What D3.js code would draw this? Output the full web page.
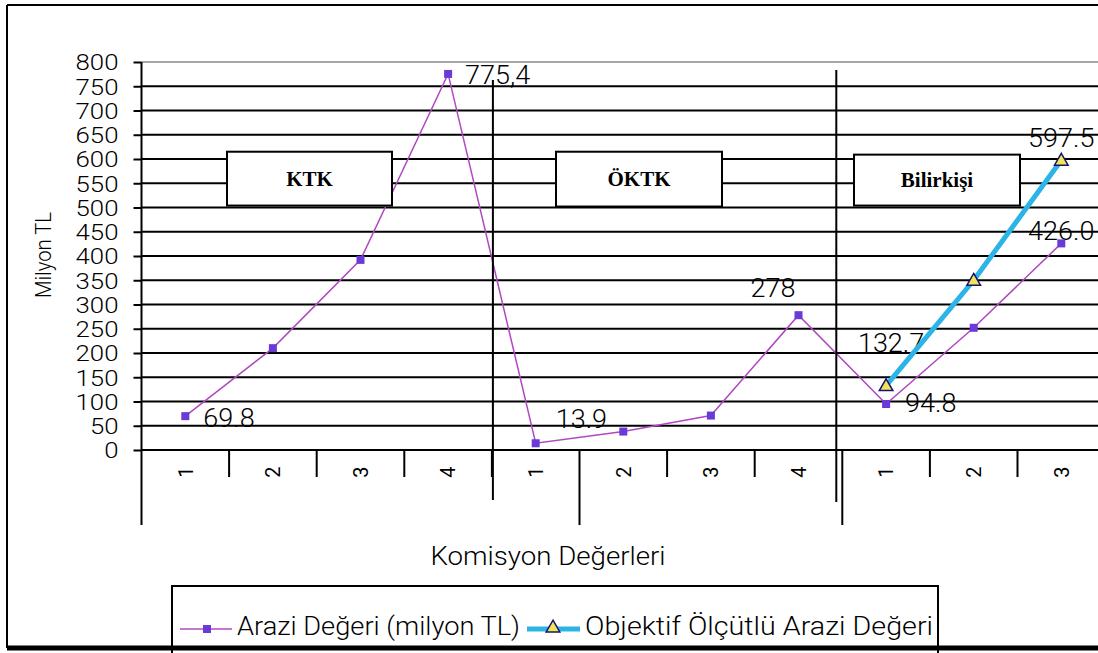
<!DOCTYPE html>
<html>
<head>
<meta charset="utf-8">
<script src="https://cdn.jsdelivr.net/npm/d3@7"></script>
<style>
  html, body { margin: 0; padding: 0; background: #fff; }
  svg { display: block; }
  text { font-family: Roboto, "Liberation Sans", Arial, sans-serif; font-weight: 300; fill: #000; }
  text.serif { font-family: "Liberation Serif", "DejaVu Serif", serif; font-weight: 700; }
  text.cat { font-weight: 400; }
</style>
</head>
<body>
<svg id="chart" width="1098" height="653"></svg>
<script>
// ---------------- data ----------------
const categories = ["1", "2", "3", "4", "1", "2", "3", "4", "1", "2", "3"];
const groupNames = ["KTK", "ÖKTK", "Bilirkişi"];
const araziValues = [69.8, 210, 392, 775.4, 13.9, 38, 71, 278, 94.8, 252, 426.0];
const objektifValues = [null, null, null, null, null, null, null, null, 132.7, 350, 597.5];
const araziLabels = ["69.8", null, null, "775,4", "13.9", null, null, "278", "94.8", null, "426.0"];
const objektifLabels = [null, null, null, null, null, null, null, null, "132.7", null, "597.5"];
const yTicks = [0, 50, 100, 150, 200, 250, 300, 350, 400, 450, 500, 550, 600, 650, 700, 750, 800];
const seriesNames = ["Arazi Değeri (milyon TL)", "Objektif Ölçütlü Arazi Değeri"];
const xTitle = "Komisyon Değerleri";
const yTitle = "Milyon TL";

// ---------------- layout ----------------
const W = 1098, H = 653;
const plotLeft = 141.5, bandW = 87.6, plotTop = 62, plotBottom = 450, plotRightEdge = W;
const svg = d3.select("#chart");

const x = d3.scaleBand().domain(d3.range(categories.length))
  .range([plotLeft, plotLeft + bandW * categories.length]).paddingInner(0).paddingOuter(0);
const cx = i => x(i) + x.bandwidth() / 2;
const y = d3.scaleLinear().domain([0, 800]).range([plotBottom, plotTop]);

const araziColor = "#b048c0";
const markerColor = "#6a3ad8";
const objColor = "#2cb4e6";

// stretch helper: widen text horizontally by a factor
function stretch(sel, f) {
  sel.each(function () {
    const w = this.getComputedTextLength();
    d3.select(this).attr("textLength", w * f).attr("lengthAdjust", "spacingAndGlyphs");
  });
}

// outer frame
svg.append("line").attr("x1", 7).attr("x2", 7).attr("y1", 5).attr("y2", 648).attr("stroke", "#000").attr("stroke-width", 2);
svg.append("line").attr("x1", 7).attr("x2", W).attr("y1", 5).attr("y2", 5).attr("stroke", "#000").attr("stroke-width", 2);

// plot top border
svg.append("line").attr("x1", plotLeft).attr("x2", plotRightEdge).attr("y1", y(800)).attr("y2", y(800))
  .attr("stroke", "#8a8a8a").attr("stroke-width", 1.5);

// gridlines
svg.append("g").selectAll("line").data(yTicks.filter(v => v > 0 && v < 800)).join("line")
  .attr("x1", plotLeft).attr("x2", plotRightEdge)
  .attr("y1", d => y(d)).attr("y2", d => y(d))
  .attr("stroke", "#000").attr("stroke-width", 2);

// y axis
const yAxis = d3.axisLeft(y).tickValues(yTicks).tickSize(8).tickPadding(15).tickFormat(d3.format("d"));
const yg = svg.append("g").attr("transform", `translate(${plotLeft},0)`).call(yAxis);
yg.select(".domain").remove();
yg.selectAll(".tick line").attr("stroke", "#000").attr("stroke-width", 2);
yg.selectAll(".tick text").attr("font-size", 21.5).attr("font-family", null)
  .attr("fill", "#000").attr("dy", "0.36em");
stretch(yg.selectAll(".tick text"), 1.2);
svg.append("line").attr("x1", plotLeft).attr("x2", plotLeft).attr("y1", y(800)).attr("y2", 525)
  .attr("stroke", "#000").attr("stroke-width", 2);

// x axis line
svg.append("line").attr("x1", plotLeft).attr("x2", plotRightEdge).attr("y1", y(0)).attr("y2", y(0))
  .attr("stroke", "#000").attr("stroke-width", 2);

// category tick lines below axis
const longIdx = [5, 8];
svg.append("g").selectAll("line").data(d3.range(1, categories.length)).join("line")
  .attr("x1", d => x(d)).attr("x2", d => x(d))
  .attr("y1", y(0)).attr("y2", d => longIdx.includes(d) ? 525 : 477)
  .attr("stroke", "#000").attr("stroke-width", 2);

// category labels (rotated)
svg.append("g").selectAll("text").data(categories).join("text")
  .attr("class", "cat")
  .attr("transform", (d, i) => `translate(${cx(i)},472) rotate(-90)`)
  .attr("text-anchor", "middle").attr("dy", "0.36em")
  .attr("font-size", 20).text(d => d);

// data labels (drawn beneath the series lines)
const araziPlace = { 0: [18, 2, "start"], 3: [17, 1, "start"], 4: [20, -24, "start"], 7: [-3, -27, "end"], 8: [19, -1, "start"], 10: [0, -12, "middle"] };
const objPlace = { 8: [5, -43, "middle"], 10: [0, -22, "middle"] };
function drawLabels(values, labels, place) {
  const data = values.map((v, i) => ({ i, v, t: labels[i] })).filter(d => d.t != null);
  const t = svg.append("g").selectAll("text").data(data).join("text")
    .attr("x", d => cx(d.i) + place[d.i][0]).attr("y", d => y(d.v) + place[d.i][1])
    .attr("text-anchor", d => place[d.i][2]).attr("dy", "0.36em")
    .attr("font-size", 25).text(d => d.t);
  stretch(t, 1.08);
}
drawLabels(araziValues, araziLabels, araziPlace);
drawLabels(objektifValues, objektifLabels, objPlace);

// Arazi series
const araziPts = araziValues.map((v, i) => ({ i, v }));
svg.append("path").datum(araziPts)
  .attr("d", d3.line().x(d => cx(d.i)).y(d => y(d.v)))
  .attr("fill", "none").attr("stroke", araziColor).attr("stroke-width", 1.5);
svg.append("g").selectAll("rect").data(araziPts).join("rect")
  .attr("x", d => cx(d.i) - 4).attr("y", d => y(d.v) - 4).attr("width", 8).attr("height", 8)
  .attr("fill", markerColor);

// Objektif series
const objPts = objektifValues.map((v, i) => ({ i, v })).filter(d => d.v != null);
svg.append("path").datum(objPts)
  .attr("d", d3.line().x(d => cx(d.i)).y(d => y(d.v)))
  .attr("fill", "none").attr("stroke", objColor).attr("stroke-width", 5);
const tri = d3.symbol().type(d3.symbolTriangle).size(80);
svg.append("g").selectAll("path").data(objPts).join("path")
  .attr("transform", d => `translate(${cx(d.i)},${y(d.v) + 1})`)
  .attr("d", tri).attr("fill", "#f2e45a").attr("stroke", "#14146e").attr("stroke-width", 1.5);

// group text boxes
const boxes = [
  { name: groupNames[0], x0: 227, x1: 392, top: 615, bottom: 504 },
  { name: groupNames[1], x0: 556, x1: 722, top: 615, bottom: 502 },
  { name: groupNames[2], x0: 854, x1: 1020, top: 609, bottom: 504 }
];
const bg = svg.append("g").selectAll("g").data(boxes).join("g");
bg.append("rect").attr("x", d => d.x0).attr("y", d => y(d.top))
  .attr("width", d => d.x1 - d.x0).attr("height", d => y(d.bottom) - y(d.top))
  .attr("fill", "#fff").attr("stroke", "#000").attr("stroke-width", 2);
bg.append("text").attr("class", "serif").attr("x", d => (d.x0 + d.x1) / 2).attr("y", d => (y(d.top) + y(d.bottom)) / 2)
  .attr("text-anchor", "middle").attr("dy", "0.35em")
  .attr("font-size", 21).text(d => d.name);

// separators (drawn lines)
const separators = [{ i: 4, dx: 1, top: 80, bottom: 500 }, { i: 8, dx: -6, top: 70, bottom: 502 }];
svg.append("g").selectAll("line").data(separators).join("line")
  .attr("x1", d => x(d.i) + d.dx).attr("x2", d => x(d.i) + d.dx)
  .attr("y1", d => d.top).attr("y2", d => d.bottom)
  .attr("stroke", "#000").attr("stroke-width", 2);

// axis titles
svg.append("text").attr("transform", "translate(43,255) rotate(-90)")
  .attr("text-anchor", "middle").attr("dy", "0.36em").attr("font-size", 22)
  .attr("textLength", 86).attr("lengthAdjust", "spacingAndGlyphs").text(yTitle);
svg.append("text").attr("x", 548).attr("y", 556).attr("text-anchor", "middle").attr("dy", "0.36em")
  .attr("font-size", 25).attr("textLength", 235).attr("lengthAdjust", "spacingAndGlyphs").text(xTitle);

// legend
const lg = svg.append("g");
lg.append("rect").attr("x", 172).attr("y", 586).attr("width", 938 - 172).attr("height", 70)
  .attr("fill", "#fff").attr("stroke", "#000").attr("stroke-width", 2);
lg.append("line").attr("x1", 180).attr("x2", 232).attr("y1", 629).attr("y2", 629).attr("stroke", araziColor).attr("stroke-width", 1.5);
lg.append("rect").attr("x", 203).attr("y", 625).attr("width", 8).attr("height", 8).attr("fill", markerColor);
lg.append("text").attr("x", 237).attr("y", 626).attr("dy", "0.36em").attr("font-size", 26)
  .attr("textLength", 283).attr("lengthAdjust", "spacingAndGlyphs").text(seriesNames[0]);
lg.append("line").attr("x1", 527).attr("x2", 580).attr("y1", 629).attr("y2", 629).attr("stroke", objColor).attr("stroke-width", 5);
lg.append("path").attr("transform", "translate(553,628)").attr("d", tri)
  .attr("fill", "#f2e45a").attr("stroke", "#14146e").attr("stroke-width", 1.5);
lg.append("text").attr("x", 585).attr("y", 626).attr("dy", "0.36em").attr("font-size", 26)
  .attr("textLength", 348).attr("lengthAdjust", "spacingAndGlyphs").text(seriesNames[1]);

// bottom frame edge
svg.append("line").attr("x1", 7).attr("x2", W).attr("y1", 648).attr("y2", 648).attr("stroke", "#000").attr("stroke-width", 5);
</script>
</body>
</html>
